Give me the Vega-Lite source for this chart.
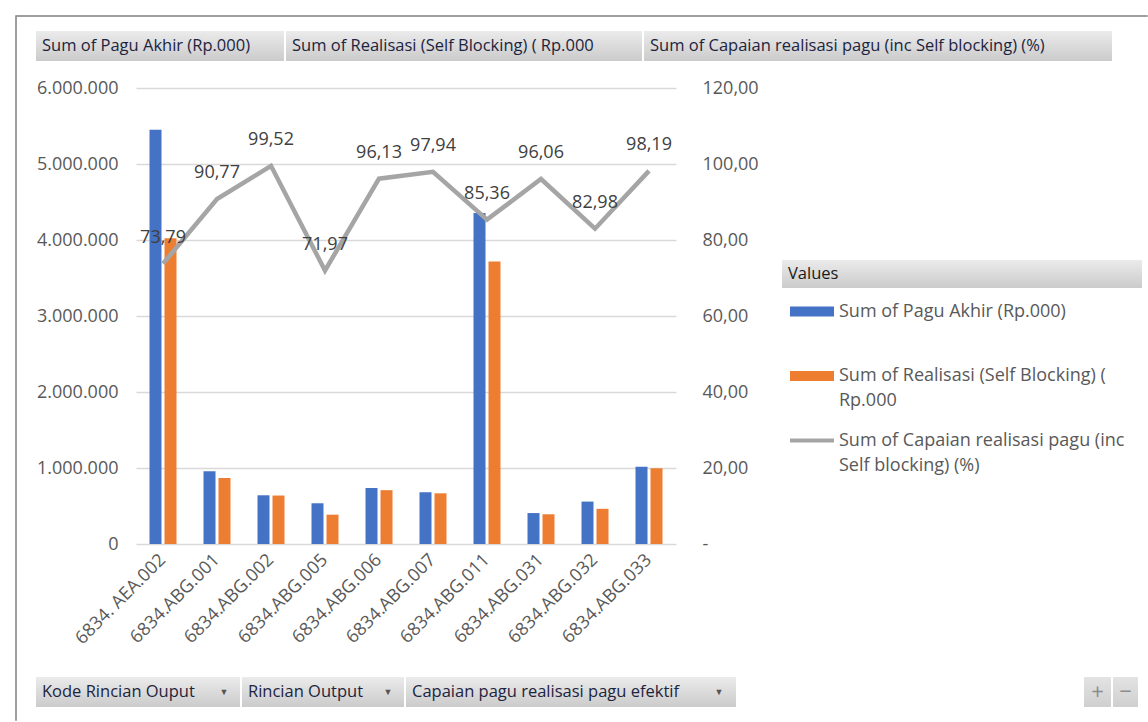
{
  "$schema": "https://vega.github.io/schema/vega-lite/v6.json",
  "padding": {"left": 15, "top": 15, "right": 0, "bottom": 0},
  "background": "white",
  "bounds": "flush",
  "spacing": 0,
  "config": {
    "view": {"stroke": null},
    "font": "Open Sans",
    "locale": {"number": {"decimal": ",", "thousands": ".", "grouping": [3], "currency": ["Rp", ""]}}
  },
  "datasets": {
    "bars": [
      {"kode": "6834. AEA.002", "series": "Sum of Pagu Akhir (Rp.000)", "value": 5450000},
      {"kode": "6834. AEA.002", "series": "Sum of Realisasi (Self Blocking) ( Rp.000", "value": 4021600},
      {"kode": "6834.ABG.001", "series": "Sum of Pagu Akhir (Rp.000)", "value": 958000},
      {"kode": "6834.ABG.001", "series": "Sum of Realisasi (Self Blocking) ( Rp.000", "value": 869600},
      {"kode": "6834.ABG.002", "series": "Sum of Pagu Akhir (Rp.000)", "value": 641000},
      {"kode": "6834.ABG.002", "series": "Sum of Realisasi (Self Blocking) ( Rp.000", "value": 637900},
      {"kode": "6834.ABG.005", "series": "Sum of Pagu Akhir (Rp.000)", "value": 536000},
      {"kode": "6834.ABG.005", "series": "Sum of Realisasi (Self Blocking) ( Rp.000", "value": 385800},
      {"kode": "6834.ABG.006", "series": "Sum of Pagu Akhir (Rp.000)", "value": 737000},
      {"kode": "6834.ABG.006", "series": "Sum of Realisasi (Self Blocking) ( Rp.000", "value": 708500},
      {"kode": "6834.ABG.007", "series": "Sum of Pagu Akhir (Rp.000)", "value": 681000},
      {"kode": "6834.ABG.007", "series": "Sum of Realisasi (Self Blocking) ( Rp.000", "value": 667000},
      {"kode": "6834.ABG.011", "series": "Sum of Pagu Akhir (Rp.000)", "value": 4355000},
      {"kode": "6834.ABG.011", "series": "Sum of Realisasi (Self Blocking) ( Rp.000", "value": 3717400},
      {"kode": "6834.ABG.031", "series": "Sum of Pagu Akhir (Rp.000)", "value": 407000},
      {"kode": "6834.ABG.031", "series": "Sum of Realisasi (Self Blocking) ( Rp.000", "value": 391000},
      {"kode": "6834.ABG.032", "series": "Sum of Pagu Akhir (Rp.000)", "value": 558000},
      {"kode": "6834.ABG.032", "series": "Sum of Realisasi (Self Blocking) ( Rp.000", "value": 463000},
      {"kode": "6834.ABG.033", "series": "Sum of Pagu Akhir (Rp.000)", "value": 1015000},
      {"kode": "6834.ABG.033", "series": "Sum of Realisasi (Self Blocking) ( Rp.000", "value": 996600}
    ],
    "capaian": [
      {"kode": "6834. AEA.002", "capaian": 73.79},
      {"kode": "6834.ABG.001", "capaian": 90.77},
      {"kode": "6834.ABG.002", "capaian": 99.52},
      {"kode": "6834.ABG.005", "capaian": 71.97},
      {"kode": "6834.ABG.006", "capaian": 96.13},
      {"kode": "6834.ABG.007", "capaian": 97.94},
      {"kode": "6834.ABG.011", "capaian": 85.36},
      {"kode": "6834.ABG.031", "capaian": 96.06},
      {"kode": "6834.ABG.032", "capaian": 82.98},
      {"kode": "6834.ABG.033", "capaian": 98.19}
    ]
  },
  "hconcat": [
    {"width": 0.001, "height": 704, "view": {"stroke": "#7f7f7f", "strokeWidth": 1.5, "fill": null}, "data": {"values": []}, "mark": "point", "encoding": {}},
    {
      "bounds": "flush",
      "spacing": 0,
      "vconcat": [
        {"width": 1130, "height": 0.001, "view": {"stroke": "#7f7f7f", "strokeWidth": 1.5, "fill": null}, "data": {"values": []}, "mark": "point", "encoding": {}},
        {"width": 0.001, "height": 14, "data": {"values": []}, "mark": "point", "encoding": {}},
        {
          "bounds": "flush",
          "spacing": 2,
          "hconcat": [
            {"width": 17, "height": 0.001, "data": {"values": []}, "mark": "point", "encoding": {}},
            {"width": 248, "height": 30, "view": {"stroke": null, "fill": {"gradient": "linear", "x1": 0, "y1": 0, "x2": 0, "y2": 1, "stops": [{"offset": 0, "color": "#ebebeb"}, {"offset": 1, "color": "#cbcbcb"}]}}, "data": {"values": [{"label": "Sum of Pagu Akhir (Rp.000)"}]}, "mark": {"type": "text", "align": "left", "baseline": "middle", "x": 6, "fontSize": 16.5, "color": "#1c2440"}, "encoding": {"text": {"field": "label", "type": "nominal"}}},
            {"width": 356, "height": 30, "view": {"stroke": null, "fill": {"gradient": "linear", "x1": 0, "y1": 0, "x2": 0, "y2": 1, "stops": [{"offset": 0, "color": "#ebebeb"}, {"offset": 1, "color": "#cbcbcb"}]}}, "data": {"values": [{"label": "Sum of Realisasi (Self Blocking) ( Rp.000"}]}, "mark": {"type": "text", "align": "left", "baseline": "middle", "x": 6, "fontSize": 16.5, "color": "#1c2440"}, "encoding": {"text": {"field": "label", "type": "nominal"}}},
            {"width": 468, "height": 30, "view": {"stroke": null, "fill": {"gradient": "linear", "x1": 0, "y1": 0, "x2": 0, "y2": 1, "stops": [{"offset": 0, "color": "#ebebeb"}, {"offset": 1, "color": "#cbcbcb"}]}}, "data": {"values": [{"label": "Sum of Capaian realisasi  pagu (inc Self blocking) (%)"}]}, "mark": {"type": "text", "align": "left", "baseline": "middle", "x": 6, "fontSize": 16.5, "color": "#1c2440"}, "encoding": {"text": {"field": "label", "type": "nominal"}}}
          ]
        },
        {"width": 0.001, "height": 57, "data": {"values": []}, "mark": "point", "encoding": {}},
        {
          "bounds": "flush",
          "spacing": 0,
          "hconcat": [
            {"width": 119, "height": 0.001, "data": {"values": []}, "mark": "point", "encoding": {}},
            {
              "width": 540,
              "height": 456,
              "layer": [
                {
                  "data": {"name": "bars"},
                  "mark": {"type": "bar"},
                  "encoding": {
                    "x": {"field": "kode", "type": "nominal", "title": null,
                      "scale": {"domain": ["6834. AEA.002", "6834.ABG.001", "6834.ABG.002", "6834.ABG.005", "6834.ABG.006", "6834.ABG.007", "6834.ABG.011", "6834.ABG.031", "6834.ABG.032", "6834.ABG.033"], "paddingInner": 0.5, "paddingOuter": 0.25},
                      "axis": {"labelAngle": -45, "labelAlign": "right", "labelBaseline": "middle", "labelFontSize": 18, "labelColor": "#595959", "labelPadding": 13, "ticks": false, "domain": false, "grid": false, "labelOverlap": false, "labelBound": false, "labelLimit": 300}},
                    "xOffset": {"field": "series", "type": "nominal", "scale": {"domain": ["Sum of Pagu Akhir (Rp.000)", "Sum of Realisasi (Self Blocking) ( Rp.000"], "paddingInner": 0.2, "paddingOuter": 0}},
                    "y": {"field": "value", "type": "quantitative", "title": null,
                      "scale": {"domain": [0, 6000000], "nice": false},
                      "axis": {"values": [0, 1000000, 2000000, 3000000, 4000000, 5000000, 6000000], "format": ",.0f", "labelFontSize": 18, "labelColor": "#595959", "labelPadding": 18, "ticks": false, "domain": false, "grid": true, "gridColor": "#d9d9d9", "gridWidth": 1.3}},
                    "color": {"field": "series", "type": "nominal",
                      "scale": {"domain": ["Sum of Pagu Akhir (Rp.000)", "Sum of Realisasi (Self Blocking) ( Rp.000", "Sum of Capaian realisasi  pagu (inc Self blocking) (%)"], "range": ["#4472C4", "#ED7D31", "#A5A5A5"]},
                      "legend": {
                        "orient": "none", "legendX": 774, "legendY": 273.5, "title": null, "padding": 0,
                        "symbolType": "M-1,-0.23H1V0.23H-1Z", "symbolSize": 1936, "symbolStrokeWidth": 0,
                        "labelFontSize": 18, "labelColor": "#595959", "labelOffset": 5, "labelLimit": 400,
                        "rowPadding": 8.5,
                        "labelExpr": "datum.label == 'Sum of Pagu Akhir (Rp.000)' ? ['Sum of Pagu Akhir (Rp.000)', ''] : datum.label == 'Sum of Realisasi (Self Blocking) ( Rp.000' ? ['Sum of Realisasi (Self Blocking) (', 'Rp.000'] : ['Sum of Capaian realisasi  pagu (inc', 'Self blocking) (%)']",
                        "encode": {
                          "symbols": {"update": {"shape": {"signal": "datum.value == 'Sum of Capaian realisasi  pagu (inc Self blocking) (%)' ? 'M-1,-0.09H1V0.09H-1Z' : 'M-1,-0.23H1V0.23H-1Z'"}, "fill": {"scale": "color", "field": "value"}, "stroke": {"value": "transparent"}, "opacity": {"value": 1}}},
                          "labels": {"update": {"lineHeight": {"value": 25}}}
                        }
                      }}
                  }
                },
                {
                  "data": {"name": "capaian"},
                  "encoding": {
                    "x": {"field": "kode", "type": "nominal"},
                    "y": {"field": "capaian", "type": "quantitative", "title": null,
                      "scale": {"domain": [0, 120], "nice": false},
                      "axis": {"orient": "right", "values": [0, 20, 40, 60, 80, 100, 120], "format": ".2f", "labelExpr": "datum.value == 0 ? '-' : datum.label", "labelFontSize": 18, "labelColor": "#595959", "labelPadding": 26, "ticks": false, "domain": false, "grid": false}}
                  },
                  "layer": [
                    {"mark": {"type": "line", "strokeWidth": 4.5}, "encoding": {"color": {"datum": "Sum of Capaian realisasi  pagu (inc Self blocking) (%)"}}},
                    {"mark": {"type": "text", "dy": -26, "fontSize": 18, "color": "#404040"}, "encoding": {"text": {"field": "capaian", "type": "quantitative", "format": ".2f"}}}
                  ]
                }
              ],
              "resolve": {"scale": {"y": "independent"}}
            },
            {"width": 106, "height": 0.001, "data": {"values": []}, "mark": "point", "encoding": {}},
            {
              "bounds": "flush",
              "spacing": 0,
              "vconcat": [
                {"width": 0.001, "height": 172, "data": {"values": []}, "mark": "point", "encoding": {}},
                {"width": 360, "height": 28, "view": {"stroke": null, "fill": {"gradient": "linear", "x1": 0, "y1": 0, "x2": 0, "y2": 1, "stops": [{"offset": 0, "color": "#ebebeb"}, {"offset": 1, "color": "#cbcbcb"}]}}, "data": {"values": [{"label": "Values"}]}, "mark": {"type": "text", "align": "left", "baseline": "middle", "x": 6, "fontSize": 16.5, "color": "#1a1a1a"}, "encoding": {"text": {"field": "label", "type": "nominal"}}}
              ]
            }
          ]
        },
        {"width": 0.001, "height": 589, "data": {"values": []}, "mark": "point", "encoding": {}},
        {
          "bounds": "flush",
          "spacing": 2,
          "hconcat": [
            {"width": 17, "height": 0.001, "data": {"values": []}, "mark": "point", "encoding": {}},
            {"width": 204, "height": 30, "view": {"stroke": null, "fill": {"gradient": "linear", "x1": 0, "y1": 0, "x2": 0, "y2": 1, "stops": [{"offset": 0, "color": "#ebebeb"}, {"offset": 1, "color": "#cbcbcb"}]}}, "data": {"values": [{"label": "Kode Rincian Ouput"}]},
              "layer": [
                {"mark": {"type": "text", "align": "left", "baseline": "middle", "x": 6, "fontSize": 16.5, "color": "#1c2440"}, "encoding": {"text": {"field": "label", "type": "nominal"}}},
                {"mark": {"type": "text", "align": "center", "baseline": "middle", "x": 188, "text": "▼", "fontSize": 9, "color": "#555555"}, "encoding": {}}
              ]},
            {"width": 162, "height": 30, "view": {"stroke": null, "fill": {"gradient": "linear", "x1": 0, "y1": 0, "x2": 0, "y2": 1, "stops": [{"offset": 0, "color": "#ebebeb"}, {"offset": 1, "color": "#cbcbcb"}]}}, "data": {"values": [{"label": "Rincian Output"}]},
              "layer": [
                {"mark": {"type": "text", "align": "left", "baseline": "middle", "x": 6, "fontSize": 16.5, "color": "#1c2440"}, "encoding": {"text": {"field": "label", "type": "nominal"}}},
                {"mark": {"type": "text", "align": "center", "baseline": "middle", "x": 146, "text": "▼", "fontSize": 9, "color": "#555555"}, "encoding": {}}
              ]},
            {"width": 330, "height": 30, "view": {"stroke": null, "fill": {"gradient": "linear", "x1": 0, "y1": 0, "x2": 0, "y2": 1, "stops": [{"offset": 0, "color": "#ebebeb"}, {"offset": 1, "color": "#cbcbcb"}]}}, "data": {"values": [{"label": "Capaian pagu realisasi pagu efektif"}]},
              "layer": [
                {"mark": {"type": "text", "align": "left", "baseline": "middle", "x": 6, "fontSize": 16.5, "color": "#1c2440"}, "encoding": {"text": {"field": "label", "type": "nominal"}}},
                {"mark": {"type": "text", "align": "center", "baseline": "middle", "x": 313, "text": "▼", "fontSize": 9, "color": "#555555"}, "encoding": {}}
              ]},
            {"width": 344, "height": 0.001, "data": {"values": []}, "mark": "point", "encoding": {}},
            {"width": 27, "height": 30, "view": {"stroke": null, "fill": {"gradient": "linear", "x1": 0, "y1": 0, "x2": 0, "y2": 1, "stops": [{"offset": 0, "color": "#e3e3e3"}, {"offset": 1, "color": "#cfcfcf"}]}}, "data": {"values": [{"label": "+"}]}, "mark": {"type": "text", "align": "center", "baseline": "middle", "fontSize": 22, "color": "#8c8c8c"}, "encoding": {"text": {"field": "label", "type": "nominal"}}},
            {"width": 25, "height": 30, "view": {"stroke": null, "fill": {"gradient": "linear", "x1": 0, "y1": 0, "x2": 0, "y2": 1, "stops": [{"offset": 0, "color": "#e3e3e3"}, {"offset": 1, "color": "#cfcfcf"}]}}, "data": {"values": [{"label": "−"}]}, "mark": {"type": "text", "align": "center", "baseline": "middle", "fontSize": 22, "color": "#8c8c8c"}, "encoding": {"text": {"field": "label", "type": "nominal"}}}
          ]
        }
      ]
    }
  ]
}
